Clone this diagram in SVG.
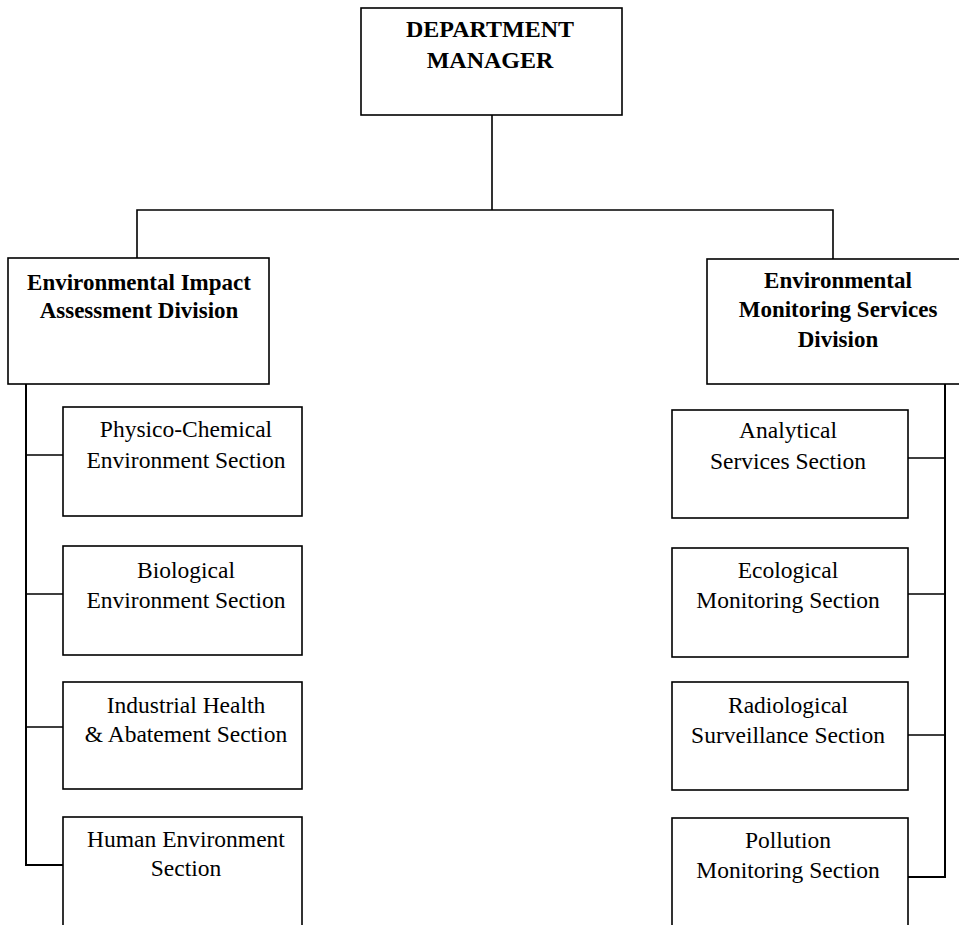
<svg xmlns="http://www.w3.org/2000/svg" width="959" height="925" viewBox="0 0 959 925">
<style>
.box{fill:#fff;stroke:#000;stroke-width:1.6}
.ln{fill:none;stroke:#000;stroke-width:1.6}
.sp{fill:none;stroke:#000;stroke-width:2}
.b{font-family:"Liberation Serif","Times New Roman",serif;font-weight:bold;font-size:23px;text-anchor:middle;fill:#000}
.r{font-family:"Liberation Serif","Times New Roman",serif;font-size:23.5px;text-anchor:middle;fill:#000}
</style>
<rect width="959" height="925" fill="#fff"/>
<g id="connectors">
<path class="ln" d="M492,115 V210 M137,258 V210 H833 V259"/>
<path class="sp" d="M26,384 V865 H63"/>
<path class="ln" d="M26,455 H63 M26,594 H63 M26,727 H63"/>
<path class="sp" d="M945,384 V877 H908"/>
<path class="ln" d="M945,458 H908 M945,594 H908 M945,735 H908"/>
</g>
<g id="manager">
<rect class="box" x="361" y="8" width="261" height="107"/>
<text class="b" x="490" y="37" style="font-size:24px">DEPARTMENT</text>
<text class="b" x="490" y="68" style="font-size:24px">MANAGER</text>
</g>
<g id="eia">
<rect class="box" x="8" y="258" width="261" height="126"/>
<text class="b" x="139" y="290">Environmental Impact</text>
<text class="b" x="139" y="318">Assessment Division</text>
</g>
<g id="ems">
<rect class="box" x="707" y="259" width="262" height="125"/>
<text class="b" x="838" y="288">Environmental</text>
<text class="b" x="838" y="317">Monitoring Services</text>
<text class="b" x="838" y="347">Division</text>
</g>
<g id="physico">
<rect class="box" x="63" y="407" width="239" height="109"/>
<text class="r" x="186" y="437">Physico-Chemical</text>
<text class="r" x="186" y="468">Environment Section</text>
</g>
<g id="biological">
<rect class="box" x="63" y="546" width="239" height="109"/>
<text class="r" x="186" y="578">Biological</text>
<text class="r" x="186" y="608">Environment Section</text>
</g>
<g id="industrial">
<rect class="box" x="63" y="682" width="239" height="107"/>
<text class="r" x="186" y="713">Industrial Health</text>
<text class="r" x="186" y="742">&amp; Abatement Section</text>
</g>
<g id="human">
<rect class="box" x="63" y="817" width="239" height="120"/>
<text class="r" x="186" y="847">Human Environment</text>
<text class="r" x="186" y="876">Section</text>
</g>
<g id="analytical">
<rect class="box" x="672" y="410" width="236" height="108"/>
<text class="r" x="788" y="438">Analytical</text>
<text class="r" x="788" y="469">Services Section</text>
</g>
<g id="ecological">
<rect class="box" x="672" y="548" width="236" height="109"/>
<text class="r" x="788" y="578">Ecological</text>
<text class="r" x="788" y="608">Monitoring Section</text>
</g>
<g id="radiological">
<rect class="box" x="672" y="682" width="236" height="108"/>
<text class="r" x="788" y="713">Radiological</text>
<text class="r" x="788" y="743">Surveillance Section</text>
</g>
<g id="pollution">
<rect class="box" x="672" y="818" width="236" height="120"/>
<text class="r" x="788" y="848">Pollution</text>
<text class="r" x="788" y="878">Monitoring Section</text>
</g>
</svg>
